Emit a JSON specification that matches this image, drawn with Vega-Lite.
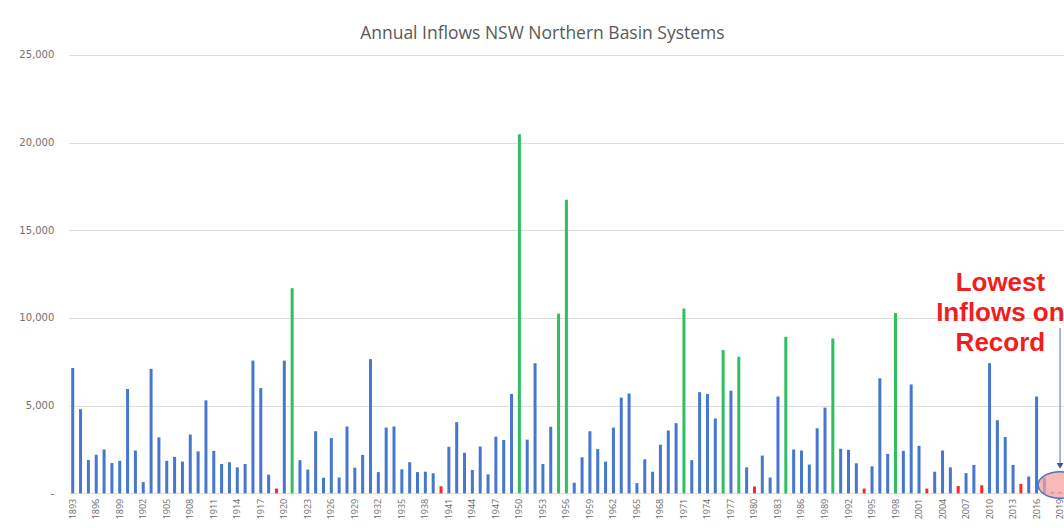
{
  "$schema": "https://vega.github.io/schema/vega-lite/v6.json",
  "autosize": {"type": "none"},
  "padding": {"left": 68.8, "top": 55, "right": 0, "bottom": 35},
  "width": 995.2,
  "height": 438.3,
  "background": "white",
  "title": {
    "text": "Annual Inflows NSW Northern Basin Systems",
    "font": "Open Sans",
    "fontSize": 17.5,
    "fontWeight": "normal",
    "color": "#595959",
    "anchor": "middle",
    "dx": -24,
    "offset": 7
  },
  "datasets": {
    "inflows": [
      {"year": 1893, "inflow": 7150, "class": "normal"},
      {"year": 1894, "inflow": 4800, "class": "normal"},
      {"year": 1895, "inflow": 1900, "class": "normal"},
      {"year": 1896, "inflow": 2200, "class": "normal"},
      {"year": 1897, "inflow": 2500, "class": "normal"},
      {"year": 1898, "inflow": 1730, "class": "normal"},
      {"year": 1899, "inflow": 1850, "class": "normal"},
      {"year": 1900, "inflow": 5950, "class": "normal"},
      {"year": 1901, "inflow": 2440, "class": "normal"},
      {"year": 1902, "inflow": 640, "class": "normal"},
      {"year": 1903, "inflow": 7100, "class": "normal"},
      {"year": 1904, "inflow": 3190, "class": "normal"},
      {"year": 1905, "inflow": 1850, "class": "normal"},
      {"year": 1906, "inflow": 2080, "class": "normal"},
      {"year": 1907, "inflow": 1810, "class": "normal"},
      {"year": 1908, "inflow": 3350, "class": "normal"},
      {"year": 1909, "inflow": 2390, "class": "normal"},
      {"year": 1910, "inflow": 5300, "class": "normal"},
      {"year": 1911, "inflow": 2420, "class": "normal"},
      {"year": 1912, "inflow": 1670, "class": "normal"},
      {"year": 1913, "inflow": 1770, "class": "normal"},
      {"year": 1914, "inflow": 1480, "class": "normal"},
      {"year": 1915, "inflow": 1670, "class": "normal"},
      {"year": 1916, "inflow": 7570, "class": "normal"},
      {"year": 1917, "inflow": 6000, "class": "normal"},
      {"year": 1918, "inflow": 1060, "class": "normal"},
      {"year": 1919, "inflow": 270, "class": "low"},
      {"year": 1920, "inflow": 7570, "class": "normal"},
      {"year": 1921, "inflow": 11700, "class": "high"},
      {"year": 1922, "inflow": 1890, "class": "normal"},
      {"year": 1923, "inflow": 1350, "class": "normal"},
      {"year": 1924, "inflow": 3540, "class": "normal"},
      {"year": 1925, "inflow": 890, "class": "normal"},
      {"year": 1926, "inflow": 3150, "class": "normal"},
      {"year": 1927, "inflow": 900, "class": "normal"},
      {"year": 1928, "inflow": 3810, "class": "normal"},
      {"year": 1929, "inflow": 1460, "class": "normal"},
      {"year": 1930, "inflow": 2190, "class": "normal"},
      {"year": 1931, "inflow": 7650, "class": "normal"},
      {"year": 1932, "inflow": 1210, "class": "normal"},
      {"year": 1933, "inflow": 3750, "class": "normal"},
      {"year": 1934, "inflow": 3810, "class": "normal"},
      {"year": 1935, "inflow": 1370, "class": "normal"},
      {"year": 1936, "inflow": 1770, "class": "normal"},
      {"year": 1937, "inflow": 1210, "class": "normal"},
      {"year": 1938, "inflow": 1230, "class": "normal"},
      {"year": 1939, "inflow": 1140, "class": "normal"},
      {"year": 1940, "inflow": 400, "class": "low"},
      {"year": 1941, "inflow": 2650, "class": "normal"},
      {"year": 1942, "inflow": 4060, "class": "normal"},
      {"year": 1943, "inflow": 2310, "class": "normal"},
      {"year": 1944, "inflow": 1330, "class": "normal"},
      {"year": 1945, "inflow": 2670, "class": "normal"},
      {"year": 1946, "inflow": 1080, "class": "normal"},
      {"year": 1947, "inflow": 3230, "class": "normal"},
      {"year": 1948, "inflow": 3040, "class": "normal"},
      {"year": 1949, "inflow": 5670, "class": "normal"},
      {"year": 1950, "inflow": 20480, "class": "high"},
      {"year": 1951, "inflow": 3060, "class": "normal"},
      {"year": 1952, "inflow": 7420, "class": "normal"},
      {"year": 1953, "inflow": 1670, "class": "normal"},
      {"year": 1954, "inflow": 3790, "class": "normal"},
      {"year": 1955, "inflow": 10250, "class": "high"},
      {"year": 1956, "inflow": 16750, "class": "high"},
      {"year": 1957, "inflow": 600, "class": "normal"},
      {"year": 1958, "inflow": 2060, "class": "normal"},
      {"year": 1959, "inflow": 3540, "class": "normal"},
      {"year": 1960, "inflow": 2520, "class": "normal"},
      {"year": 1961, "inflow": 1810, "class": "normal"},
      {"year": 1962, "inflow": 3750, "class": "normal"},
      {"year": 1963, "inflow": 5460, "class": "normal"},
      {"year": 1964, "inflow": 5690, "class": "normal"},
      {"year": 1965, "inflow": 580, "class": "normal"},
      {"year": 1966, "inflow": 1940, "class": "normal"},
      {"year": 1967, "inflow": 1230, "class": "normal"},
      {"year": 1968, "inflow": 2770, "class": "normal"},
      {"year": 1969, "inflow": 3580, "class": "normal"},
      {"year": 1970, "inflow": 4000, "class": "normal"},
      {"year": 1971, "inflow": 10540, "class": "high"},
      {"year": 1972, "inflow": 1890, "class": "normal"},
      {"year": 1973, "inflow": 5770, "class": "normal"},
      {"year": 1974, "inflow": 5670, "class": "normal"},
      {"year": 1975, "inflow": 4270, "class": "normal"},
      {"year": 1976, "inflow": 8170, "class": "high"},
      {"year": 1977, "inflow": 5850, "class": "normal"},
      {"year": 1978, "inflow": 7790, "class": "high"},
      {"year": 1979, "inflow": 1480, "class": "normal"},
      {"year": 1980, "inflow": 390, "class": "low"},
      {"year": 1981, "inflow": 2150, "class": "normal"},
      {"year": 1982, "inflow": 900, "class": "normal"},
      {"year": 1983, "inflow": 5520, "class": "normal"},
      {"year": 1984, "inflow": 8930, "class": "high"},
      {"year": 1985, "inflow": 2500, "class": "normal"},
      {"year": 1986, "inflow": 2440, "class": "normal"},
      {"year": 1987, "inflow": 1640, "class": "normal"},
      {"year": 1988, "inflow": 3710, "class": "normal"},
      {"year": 1989, "inflow": 4890, "class": "normal"},
      {"year": 1990, "inflow": 8830, "class": "high"},
      {"year": 1991, "inflow": 2540, "class": "normal"},
      {"year": 1992, "inflow": 2480, "class": "normal"},
      {"year": 1993, "inflow": 1710, "class": "normal"},
      {"year": 1994, "inflow": 270, "class": "low"},
      {"year": 1995, "inflow": 1540, "class": "normal"},
      {"year": 1996, "inflow": 6560, "class": "normal"},
      {"year": 1997, "inflow": 2250, "class": "normal"},
      {"year": 1998, "inflow": 10280, "class": "high"},
      {"year": 1999, "inflow": 2420, "class": "normal"},
      {"year": 2000, "inflow": 6210, "class": "normal"},
      {"year": 2001, "inflow": 2710, "class": "normal"},
      {"year": 2002, "inflow": 270, "class": "low"},
      {"year": 2003, "inflow": 1230, "class": "normal"},
      {"year": 2004, "inflow": 2440, "class": "normal"},
      {"year": 2005, "inflow": 1480, "class": "normal"},
      {"year": 2006, "inflow": 420, "class": "low"},
      {"year": 2007, "inflow": 1150, "class": "normal"},
      {"year": 2008, "inflow": 1620, "class": "normal"},
      {"year": 2009, "inflow": 460, "class": "low"},
      {"year": 2010, "inflow": 7420, "class": "normal"},
      {"year": 2011, "inflow": 4170, "class": "normal"},
      {"year": 2012, "inflow": 3210, "class": "normal"},
      {"year": 2013, "inflow": 1620, "class": "normal"},
      {"year": 2014, "inflow": 540, "class": "low"},
      {"year": 2015, "inflow": 960, "class": "normal"},
      {"year": 2016, "inflow": 5520, "class": "normal"},
      {"year": 2017, "inflow": 900, "class": "normal"},
      {"year": 2018, "inflow": 80, "class": "low"},
      {"year": 2019, "inflow": 80, "class": "low"}
    ],
    "note": [
      {"year": 2011, "value": 12000, "label": "Lowest\nInflows on\nRecord"}
    ],
    "arrow": [
      {"year": 2019, "top": 9430, "bottom": 1650, "head": 1560, "ellipse": 474}
    ]
  },
  "layer": [
    {
      "data": {"name": "inflows"},
      "mark": {"type": "bar", "width": 3},
      "encoding": {
        "x": {
          "field": "year",
          "type": "ordinal",
          "scale": {"paddingInner": 0, "paddingOuter": 0},
          "axis": {
            "title": null,
            "values": [1893, 1896, 1899, 1902, 1905, 1908, 1911, 1914, 1917, 1920, 1923, 1926, 1929, 1932, 1935, 1938, 1941, 1944, 1947, 1950, 1953, 1956, 1959, 1962, 1965, 1968, 1971, 1974, 1977, 1980, 1983, 1986, 1989, 1992, 1995, 1998, 2001, 2004, 2007, 2010, 2013, 2016, 2019],
            "labelAngle": -90,
            "labelFont": "Open Sans",
            "labelFontSize": 9,
            "labelColor": "#6b6b6b",
            "labelPadding": 5,
            "ticks": false,
            "domain": false,
            "grid": false
          }
        },
        "y": {
          "field": "inflow",
          "type": "quantitative",
          "scale": {"domain": [0, 25000], "nice": false},
          "axis": {
            "title": null,
            "values": [0, 5000, 10000, 15000, 20000, 25000],
            "labelExpr": "datum.value == 0 ? '-' : format(datum.value, ',')",
            "labelFont": "DejaVu Sans",
            "labelFontSize": 10,
            "labelColor": "#707070",
            "labelPadding": 15,
            "ticks": false,
            "domain": false,
            "grid": true,
            "gridColor": "#dedede",
            "gridWidth": 1
          }
        },
        "color": {
          "field": "class",
          "type": "nominal",
          "scale": {"domain": ["normal", "high", "low"], "range": ["#4677cf", "#2fbf5f", "#f52a2a"]},
          "legend": null
        }
      }
    },
    {
      "data": {"name": "note"},
      "mark": {
        "type": "text",
        "font": "Liberation Sans",
        "fontWeight": "bold",
        "fontSize": 26,
        "lineHeight": 30,
        "lineBreak": "\n",
        "color": "#f21d1d",
        "align": "center",
        "baseline": "middle",
        "dx": 3
      },
      "encoding": {
        "x": {"field": "year", "type": "ordinal"},
        "y": {"field": "value", "type": "quantitative"},
        "text": {"field": "label"}
      }
    },
    {
      "data": {"name": "arrow"},
      "mark": {"type": "rule", "color": "#8c9fd2", "strokeWidth": 1.5},
      "encoding": {
        "x": {"field": "year", "type": "ordinal"},
        "y": {"field": "top", "type": "quantitative"},
        "y2": {"field": "bottom"}
      }
    },
    {
      "data": {"name": "arrow"},
      "mark": {"type": "point", "shape": "triangle-down", "filled": true, "size": 45, "color": "#2f5aa8", "opacity": 1},
      "encoding": {
        "x": {"field": "year", "type": "ordinal"},
        "y": {"field": "head", "type": "quantitative"}
      }
    },
    {
      "data": {"name": "arrow"},
      "mark": {
        "type": "point",
        "shape": "M-1,0C-1,-0.33,-0.55,-0.6,0,-0.6C0.55,-0.6,1,-0.33,1,0C1,0.33,0.55,0.6,0,0.6C-0.55,0.6,-1,0.33,-1,0Z",
        "size": 1936,
        "filled": true,
        "fill": "#f4a0a0",
        "fillOpacity": 0.75,
        "stroke": "#4f72c0",
        "strokeWidth": 1.5,
        "strokeOpacity": 1,
        "opacity": 1,
        "dx": 1
      },
      "encoding": {
        "x": {"field": "year", "type": "ordinal"},
        "y": {"field": "ellipse", "type": "quantitative"}
      }
    }
  ],
  "config": {
    "view": {"stroke": null}
  }
}
